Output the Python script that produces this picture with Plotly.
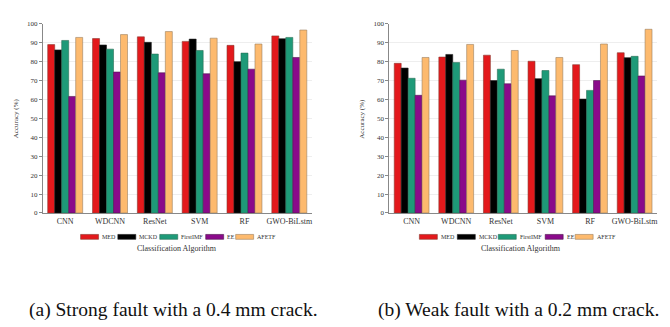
import plotly.graph_objects as go
from plotly.subplots import make_subplots

categories = ["CNN", "WDCNN", "ResNet", "SVM", "RF", "GWO-BiLstm"]
methods = ["MED", "MCKD", "FirstIMF", "EE", "AFETF"]

# (a) strong fault, 0.4 mm crack
strong_med = [89.0, 92.2, 93.1, 90.7, 88.6, 93.6]
strong_mckd = [86.2, 88.8, 90.2, 91.9, 80.0, 92.1]
strong_firstimf = [91.2, 86.6, 84.0, 85.9, 84.5, 92.8]
strong_ee = [61.6, 74.5, 74.1, 73.6, 76.0, 82.2]
strong_afetf = [92.8, 94.3, 95.9, 92.4, 89.3, 96.7]

# (b) weak fault, 0.2 mm crack
weak_med = [79.1, 82.4, 83.4, 80.2, 78.4, 84.7]
weak_mckd = [76.6, 83.8, 70.0, 71.0, 60.2, 82.1]
weak_firstimf = [71.2, 79.5, 76.0, 75.3, 64.8, 82.8]
weak_ee = [62.2, 70.2, 68.3, 61.9, 70.0, 72.4]
weak_afetf = [82.2, 89.1, 85.9, 82.2, 89.3, 97.1]

colors = ["#E3191C", "#000000", "#1E9A78", "#8A0A8A", "#FDBA6E"]
outline = ["#8a3a30", "#222222", "#2c6e55", "#4e1a4e", "#9a8060"]

strong = [strong_med, strong_mckd, strong_firstimf, strong_ee, strong_afetf]
weak = [weak_med, weak_mckd, weak_firstimf, weak_ee, weak_afetf]

serif = "Liberation Serif"
W, H = 670, 327

fig = make_subplots(rows=1, cols=2)

for col, data in [(1, strong), (2, weak)]:
    for i, m in enumerate(methods):
        fig.add_trace(go.Bar(
            x=categories, y=data[i], name=m, showlegend=False,
            marker=dict(color=colors[i], line=dict(color=outline[i], width=0.6)),
        ), row=1, col=col)

fig.update_layout(
    width=W, height=H,
    margin=dict(l=0, r=0, t=0, b=0),
    paper_bgcolor="white", plot_bgcolor="white",
    barmode="group", bargap=0.22, bargroupgap=0,
    font=dict(family=serif, color="#333333"),
    xaxis=dict(domain=[0.052, 0.454]),
    xaxis2=dict(domain=[0.570, 0.970]),
    yaxis=dict(domain=[0.370, 0.963]),
    yaxis2=dict(domain=[0.370, 0.963]),
)

fig.update_xaxes(showline=True, linecolor="#888888", linewidth=1, ticks="",
                 tickfont=dict(size=8, family=serif, color="#333333"), showgrid=False)
fig.update_yaxes(range=[0, 100], dtick=10, showline=True, linecolor="#888888", linewidth=1,
                 ticks="outside", ticklen=3, tickcolor="#888888",
                 tickfont=dict(size=7, family=serif, color="#333333"),
                 showgrid=True, gridcolor="#eeeeee", gridwidth=1)

# hand-built legends (compact swatches like the original)
legend_left = [72.7, 110, 152, 198, 228]
legend_right = [412, 450, 491, 538, 568]
sw_w, sw_h, leg_y = 18, 5, 230.5
for starts in (legend_left, legend_right):
    for i, m in enumerate(methods):
        x0 = starts[i]
        fig.add_shape(type="rect", xref="paper", yref="paper",
                      x0=x0 / W, x1=(x0 + sw_w) / W,
                      y0=1 - (leg_y + sw_h / 2) / H, y1=1 - (leg_y - sw_h / 2) / H,
                      fillcolor=colors[i], line=dict(color=outline[i], width=0.6))
        fig.add_annotation(text=m, xref="paper", yref="paper", x=(x0 + sw_w + 1.5) / W,
                           y=1 - leg_y / H, xanchor="left", yanchor="middle", showarrow=False,
                           font=dict(size=6, family=serif, color="#333333"))

for xp in [169 / W, 514 / W]:
    fig.add_annotation(text="Classification Algorithm", xref="paper", yref="paper",
                       x=xp, y=1 - 242 / H, xanchor="center", yanchor="middle",
                       showarrow=False, font=dict(size=8, family=serif, color="#333333"))

for xp in [8 / W, 355 / W]:
    fig.add_annotation(text="Accuracy (%)", xref="paper", yref="paper", x=xp, y=0.667,
                       textangle=-90, showarrow=False, xanchor="center", yanchor="middle",
                       font=dict(size=7, family=serif, color="#333333"))

captions = [
    ("(a) Strong fault with a 0.4 mm crack.", 165.5 / W),
    ("(b) Weak fault with a 0.2 mm crack.", 511 / W),
]
for text, xp in captions:
    fig.add_annotation(text=text, xref="paper", yref="paper", x=xp, y=1 - 305 / H,
                       showarrow=False, xanchor="center", yanchor="middle",
                       font=dict(size=19.5, family=serif, color="#111111"))

fig.write_html("out.html")
